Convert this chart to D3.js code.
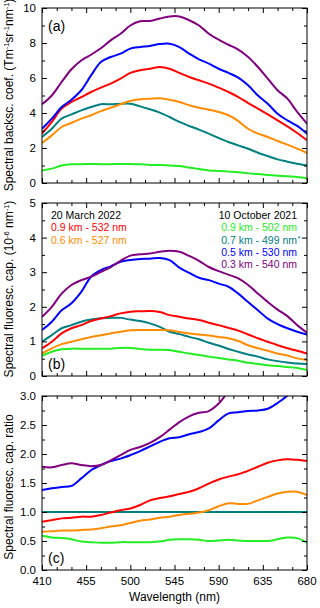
<!DOCTYPE html>
<html>
<head>
<meta charset="utf-8">
<script src="https://cdn.jsdelivr.net/npm/d3@7"></script>
<style>
  body { margin: 0; background: #fff; }
  svg text { font-family: "Liberation Sans", Arial, sans-serif; }
</style>
</head>
<body>
<div id="chart"></div>
<script>
// Wavelength grid (nm)
const wavelengths = [410, 420, 430, 440, 450, 460, 470, 480, 490, 500, 510, 520, 530, 540,
    550, 560, 570, 580, 590, 600, 610, 620, 630, 640, 650, 660, 670, 680];

// Panel (a): spectral backscattering coefficient
const backPurple = [4.5, 5.0, 5.77, 6.5, 7.0, 7.33, 7.7, 8.15, 8.53, 9.0, 9.24, 9.26, 9.4, 9.52,
    9.52, 9.3, 9.0, 8.53, 8.19, 7.9, 7.62, 7.2, 6.63, 5.96, 5.3, 4.82, 4.06, 3.39];
const backBlue = [3.1, 3.68, 4.34, 4.76, 5.3, 6.15, 6.91, 7.2, 7.39, 7.68, 7.77, 7.83, 7.94, 7.96,
    7.77, 7.39, 7.07, 6.82, 6.53, 6.29, 6.02, 5.58, 5.0, 4.53, 3.96, 3.58, 3.26, 2.82];
const backRed = [2.82, 3.49, 4.25, 4.63, 4.91, 5.2, 5.45, 5.68, 5.96, 6.29, 6.44, 6.53, 6.63, 6.53,
    6.29, 6.06, 5.87, 5.68, 5.45, 5.2, 4.91, 4.57, 4.25, 3.92, 3.58, 3.24, 2.86, 2.44];
const backTeal = [2.63, 3.1, 3.68, 3.92, 4.15, 4.34, 4.5, 4.5, 4.53, 4.53, 4.38, 4.21, 4.02, 3.77,
    3.49, 3.26, 3.05, 2.82, 2.57, 2.34, 2.15, 1.96, 1.73, 1.54, 1.35, 1.22, 1.1, 1.0];
const backOrange = [2.29, 2.72, 3.2, 3.43, 3.68, 3.87, 4.11, 4.3, 4.5, 4.69, 4.78, 4.82, 4.84, 4.76,
    4.63, 4.44, 4.3, 4.19, 4.06, 3.87, 3.54, 3.1, 2.82, 2.63, 2.4, 2.19, 1.96, 1.71];
const backGreen = [0.72, 0.82, 1.0, 1.07, 1.07, 1.09, 1.07, 1.07, 1.09, 1.09, 1.07, 1.03, 1.03, 1.0,
    0.97, 0.88, 0.8, 0.72, 0.69, 0.65, 0.61, 0.55, 0.51, 0.46, 0.42, 0.38, 0.34, 0.27];

// Panel (b): spectral fluorescence capacity (1e-6 nm^-1)
const fluoPurple = [1.71, 2.0, 2.38, 2.63, 2.77, 2.87, 3.01, 3.15, 3.33, 3.48, 3.52, 3.54, 3.59, 3.62,
    3.59, 3.47, 3.33, 3.15, 3.03, 2.93, 2.82, 2.63, 2.38, 2.14, 1.92, 1.73, 1.47, 1.25];
const fluoBlue = [1.33, 1.57, 1.9, 2.1, 2.43, 2.87, 3.06, 3.17, 3.3, 3.35, 3.38, 3.39, 3.41, 3.35,
    3.13, 2.98, 2.84, 2.77, 2.67, 2.58, 2.38, 2.14, 1.9, 1.66, 1.5, 1.38, 1.28, 1.2];
const fluoRed = [0.8, 0.99, 1.23, 1.38, 1.47, 1.59, 1.66, 1.73, 1.81, 1.86, 1.87, 1.88, 1.85, 1.76,
    1.71, 1.66, 1.62, 1.54, 1.47, 1.39, 1.31, 1.2, 1.09, 0.99, 0.89, 0.8, 0.73, 0.65];
const fluoTeal = [0.99, 1.18, 1.38, 1.47, 1.57, 1.63, 1.67, 1.68, 1.68, 1.63, 1.59, 1.52, 1.42, 1.28,
    1.21, 1.13, 1.06, 0.96, 0.88, 0.78, 0.7, 0.62, 0.56, 0.48, 0.43, 0.39, 0.36, 0.35];
const fluoOrange = [0.65, 0.8, 0.92, 0.99, 1.06, 1.13, 1.18, 1.23, 1.28, 1.32, 1.33, 1.33, 1.33, 1.32,
    1.27, 1.23, 1.2, 1.17, 1.13, 1.09, 1.01, 0.89, 0.8, 0.73, 0.65, 0.59, 0.51, 0.46];
const fluoGreen = [0.58, 0.7, 0.77, 0.79, 0.79, 0.79, 0.79, 0.79, 0.81, 0.81, 0.78, 0.76, 0.76, 0.75,
    0.7, 0.65, 0.61, 0.56, 0.52, 0.48, 0.44, 0.38, 0.35, 0.31, 0.29, 0.26, 0.23, 0.17];

// Panel (c): ratio to the 0.7 km profile
const ratioPurple = [1.78, 1.77, 1.81, 1.84, 1.81, 1.79, 1.81, 1.89, 1.98, 2.07, 2.12, 2.19, 2.29, 2.42,
    2.55, 2.65, 2.71, 2.74, 2.87, 3.08, 3.25, 3.4, 3.55, 3.7, 3.85, 4.0, 4.1, 4.2];
const ratioBlue = [1.38, 1.41, 1.43, 1.45, 1.58, 1.72, 1.81, 1.88, 1.92, 1.98, 2.05, 2.13, 2.21, 2.27,
    2.29, 2.34, 2.38, 2.44, 2.58, 2.7, 2.72, 2.74, 2.75, 2.78, 2.88, 3.01, 3.2, 3.4];
const ratioRed = [0.83, 0.86, 0.89, 0.9, 0.92, 0.92, 0.95, 0.99, 1.03, 1.06, 1.12, 1.2, 1.24, 1.27,
    1.31, 1.35, 1.41, 1.49, 1.56, 1.61, 1.65, 1.71, 1.78, 1.85, 1.89, 1.91, 1.9, 1.88];
const ratioTeal = [1, 1, 1, 1, 1, 1, 1, 1, 1, 1, 1, 1, 1, 1,
    1, 1, 1, 1, 1, 1, 1, 1, 1, 1, 1, 1, 1, 1];
const ratioOrange = [0.66, 0.67, 0.68, 0.68, 0.69, 0.7, 0.72, 0.75, 0.77, 0.81, 0.85, 0.87, 0.9, 0.92,
    0.95, 0.97, 0.99, 1.03, 1.1, 1.15, 1.14, 1.14, 1.2, 1.26, 1.32, 1.35, 1.35, 1.29];
const ratioGreen = [0.59, 0.56, 0.55, 0.53, 0.49, 0.48, 0.47, 0.47, 0.48, 0.48, 0.48, 0.48, 0.49, 0.52,
    0.53, 0.53, 0.52, 0.5, 0.51, 0.52, 0.51, 0.5, 0.5, 0.5, 0.53, 0.56, 0.55, 0.47];

const xTicks = [410, 455, 500, 545, 590, 635, 680];

const colors = {
    green: "#22ee22", teal: "#008080", orange: "#ff8c00",
    red: "#ff0000", blue: "#0000ff", purple: "#800080"
};

const W = 320, H = 608;
const left = 42, right = 307;

const svg = d3.select("#chart").append("svg")
    .attr("width", W)
    .attr("height", H);

const x = d3.scaleLinear().domain([410, 680]).range([left, right]);

const panels = [
    {
        id: "a", top: 8, bottom: 183, domain: [0, 10], major: 2, minor: 1, fmt: d3.format("d"),
        series: [["green", backGreen], ["teal", backTeal], ["orange", backOrange],
                 ["red", backRed], ["blue", backBlue], ["purple", backPurple]],
        label: "(a)", labelY: 31
    },
    {
        id: "b", top: 203, bottom: 376, domain: [0, 5], major: 1, minor: 0.5, fmt: d3.format("d"),
        series: [["green", fluoGreen], ["teal", fluoTeal], ["orange", fluoOrange],
                 ["red", fluoRed], ["blue", fluoBlue], ["purple", fluoPurple]],
        label: "(b)", labelY: 369
    },
    {
        id: "c", top: 396, bottom: 570, domain: [0, 3], major: 0.5, minor: 0.25, fmt: d3.format(".1f"),
        series: [["teal", ratioTeal], ["green", ratioGreen], ["orange", ratioOrange],
                 ["red", ratioRed], ["blue", ratioBlue], ["purple", ratioPurple]],
        label: "(c)", labelY: 563
    }
];

panels.forEach((p, i) => {
    const y = d3.scaleLinear().domain(p.domain).range([p.bottom, p.top]);
    const g = svg.append("g");

    // clip region for the curves
    g.append("clipPath").attr("id", "clip-" + p.id)
        .append("rect")
        .attr("x", left).attr("y", p.top)
        .attr("width", right - left).attr("height", p.bottom - p.top);

    const line = d3.line()
        .x((d, k) => x(wavelengths[k]))
        .y(d => y(d))
        .curve(d3.curveCatmullRom);

    g.append("g").attr("clip-path", `url(#clip-${p.id})`)
        .selectAll("path")
        .data(p.series)
        .enter().append("path")
        .attr("fill", "none")
        .attr("stroke", d => colors[d[0]])
        .attr("stroke-width", 2)
        .attr("d", d => line(d[1]));

    // y ticks (inward, mirrored)
    const yMajor = d3.range(p.domain[0], p.domain[1] + 1e-9, p.major);
    const yMinor = d3.range(p.domain[0], p.domain[1] + 1e-9, p.minor)
        .filter(v => Math.abs(v / p.major - Math.round(v / p.major)) > 1e-6);

    g.append("g").attr("transform", `translate(${left},0)`)
        .call(d3.axisRight(y).tickValues(yMajor).tickSize(5).tickFormat("").tickSizeOuter(0))
        .call(a => a.select(".domain").remove());
    g.append("g").attr("transform", `translate(${left},0)`)
        .call(d3.axisRight(y).tickValues(yMinor).tickSize(3).tickFormat("").tickSizeOuter(0))
        .call(a => a.select(".domain").remove());
    g.append("g").attr("transform", `translate(${right},0)`)
        .call(d3.axisLeft(y).tickValues(yMajor).tickSize(5).tickFormat("").tickSizeOuter(0))
        .call(a => a.select(".domain").remove());
    g.append("g").attr("transform", `translate(${right},0)`)
        .call(d3.axisLeft(y).tickValues(yMinor).tickSize(3).tickFormat("").tickSizeOuter(0))
        .call(a => a.select(".domain").remove());

    // y tick labels
    g.selectAll(".ylab")
        .data(yMajor)
        .enter().append("text")
        .attr("x", left - 6)
        .attr("y", d => y(d) + 4)
        .attr("text-anchor", "end")
        .style("font-size", "11.5px")
        .text(d => p.fmt(d));

    // x ticks (inward, top and bottom)
    const xMinor = d3.range(410, 681, 15).filter(v => (v - 410) % 45 !== 0);
    g.append("g").attr("transform", `translate(0,${p.bottom})`)
        .call(d3.axisTop(x).tickValues(xTicks).tickSize(5).tickFormat("").tickSizeOuter(0))
        .call(a => a.select(".domain").remove());
    g.append("g").attr("transform", `translate(0,${p.bottom})`)
        .call(d3.axisTop(x).tickValues(xMinor).tickSize(3).tickFormat("").tickSizeOuter(0))
        .call(a => a.select(".domain").remove());
    g.append("g").attr("transform", `translate(0,${p.top})`)
        .call(d3.axisBottom(x).tickValues(xTicks).tickSize(5).tickFormat("").tickSizeOuter(0))
        .call(a => a.select(".domain").remove());
    g.append("g").attr("transform", `translate(0,${p.top})`)
        .call(d3.axisBottom(x).tickValues(xMinor).tickSize(3).tickFormat("").tickSizeOuter(0))
        .call(a => a.select(".domain").remove());

    // frame
    g.append("rect")
        .attr("x", left).attr("y", p.top)
        .attr("width", right - left).attr("height", p.bottom - p.top)
        .attr("fill", "none")
        .attr("stroke", "#000")
        .attr("stroke-width", 1);

    // panel letter
    g.append("text")
        .attr("x", 48)
        .attr("y", p.labelY)
        .style("font-size", "14px")
        .text(p.label);

    if (i === 2) {
        g.selectAll(".xlab")
            .data(xTicks)
            .enter().append("text")
            .attr("x", d => x(d))
            .attr("y", p.bottom + 15)
            .attr("text-anchor", "middle")
            .style("font-size", "11.5px")
            .text(d => d);
    }
});

// axis titles
function yTitle(cy, parts) {
    const t = svg.append("text")
        .attr("transform", `translate(13,${cy}) rotate(-90)`)
        .attr("text-anchor", "middle")
        .style("font-size", "12px");
    parts.forEach(([s, sup]) => {
        t.append("tspan")
            .attr("baseline-shift", sup ? "super" : null)
            .style("font-size", sup ? "7.5px" : null)
            .text(s);
    });
}
yTitle(95, [["Spectral backsc. coef. (Tm"], ["-1", true], ["sr"], ["-1", true], ["nm"], ["-1", true], [")"]]);
yTitle(289, [["Spectral fluoresc. cap. (10"], ["-6", true], [" nm"], ["-1", true], [")"]]);
yTitle(487, [["Spectral fluoresc. cap. ratio"]]);

svg.append("text")
    .attr("x", (left + right) / 2)
    .attr("y", 601)
    .attr("text-anchor", "middle")
    .style("font-size", "12px")
    .text("Wavelength (nm)");

// legend in panel (b)
const legLeft = [["20 March 2022", "#000"], ["0.9 km - 532 nm", colors.red], ["0.6 km - 527 nm", colors.orange]];
const legRight = [["10 October 2021", "#000"], ["0.9 km - 502 nm", colors.green], ["0.7 km - 499 nm", colors.teal],
    ["0.5 km - 530 nm", colors.blue], ["0.3 km - 540 nm", colors.purple]];

svg.selectAll(".legL")
    .data(legLeft)
    .enter().append("text")
    .attr("x", 51)
    .attr("y", (d, k) => 219 + k * 12.3)
    .attr("fill", d => d[1])
    .style("font-size", "10.5px")
    .text(d => d[0]);

svg.selectAll(".legR")
    .data(legRight)
    .enter().append("text")
    .attr("x", 297)
    .attr("y", (d, k) => 219 + k * 12.3)
    .attr("text-anchor", "end")
    .attr("fill", d => d[1])
    .style("font-size", "10.5px")
    .text(d => d[0]);

svg.append("text")
    .attr("x", 297.5)
    .attr("y", 219 + 2 * 12.3 - 3)
    .attr("fill", colors.teal)
    .style("font-size", "8px")
    .text("*");
</script>
</body>
</html>
